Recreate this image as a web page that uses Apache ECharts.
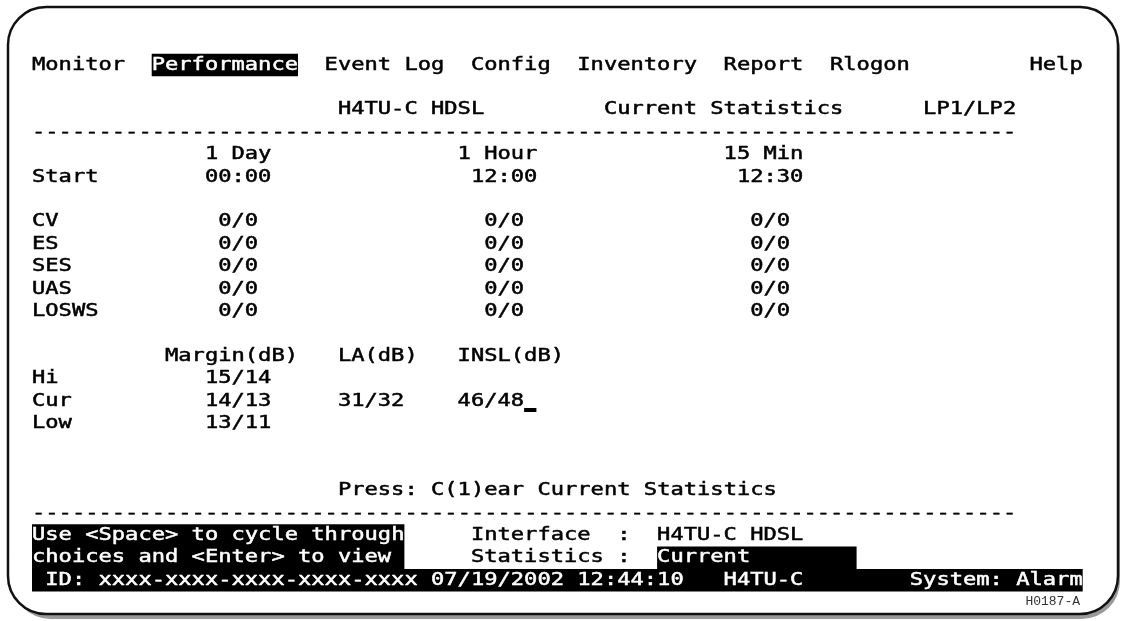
<!DOCTYPE html>
<html>
<head>
<meta charset="utf-8">
<script src="https://cdn.jsdelivr.net/npm/echarts@6/dist/echarts.min.js"></script>
<style>
  html, body { margin: 0; padding: 0; background: #fff; }
  #main { width: 1123px; height: 621px; }
</style>
</head>
<body>
<div id="main"></div>
<script>
// screen content
var menuItems = ['Monitor', 'Performance', 'Event Log', 'Config', 'Inventory', 'Report', 'Rlogon', 'Help'];
var activeMenu = 'Performance';
var unitName = 'H4TU-C';
var ifaceName = 'H4TU-C HDSL';
var pageTitle = 'Current Statistics';
var loopName = 'LP1/LP2';

var periods = ['1 Day', '1 Hour', '15 Min'];
var startTimes = ['00:00', '12:00', '12:30'];
var counterNames = ['CV', 'ES', 'SES', 'UAS', 'LOSWS'];
var dayCounts = ['0/0', '0/0', '0/0', '0/0', '0/0'];
var hourCounts = ['0/0', '0/0', '0/0', '0/0', '0/0'];
var minCounts = ['0/0', '0/0', '0/0', '0/0', '0/0'];

var lineHeads = ['Margin(dB)', 'LA(dB)', 'INSL(dB)'];
var lineRows = ['Hi', 'Cur', 'Low'];
var marginVals = ['15/14', '14/13', '13/11'];
var laVals = ['', '31/32', ''];
var inslVals = ['', '46/48', ''];

var pressText = 'Press: C(1)ear Current Statistics';
var helpLines = ['Use <Space> to cycle through', 'choices and <Enter> to view'];
var statsMode = 'Current';
var idText = 'xxxx-xxxx-xxxx-xxxx-xxxx';
var dateText = '07/19/2002';
var timeText = '12:44:10';
var systemText = 'System: Alarm';
var figureId = 'H0187-A';

// terminal grid
var CW = 13.3, X0 = 32, Y0 = 65, RH = 22.4, FS = 18;
var FONT = FS + 'px "DejaVu Sans Mono"';
var SX = CW / (0.602 * FS);

function cx(c) { return X0 + c * CW; }
function ry(r) { return Y0 + (r - 1) * RH; }

var els = [];

function txt(s, c, r, color) {
  if (!s) return;
  var col = color || '#000';
  els.push({
    type: 'text', x: cx(c), y: ry(r), scaleX: SX, z: 20,
    style: {
      text: s, x: 0, y: 0, font: FONT, fill: col, stroke: col, lineWidth: 0.5,
      textAlign: 'left', textVerticalAlign: 'middle', align: 'left', verticalAlign: 'middle'
    }
  });
}
function box(c0, c1, r0, r1) {
  els.push({
    type: 'rect', z: 10,
    shape: { x: cx(c0), y: ry(r0) - RH / 2, width: (c1 - c0) * CW, height: (r1 - r0 + 1) * RH },
    style: { fill: '#000' }
  });
}

// frame + shadow
els.push({ type: 'rect', z: 1, shape: { x: 12, y: 12, width: 1108, height: 607, r: 38 }, style: { fill: '#9a9a9a' } });
els.push({ type: 'rect', z: 2, shape: { x: 8, y: 7, width: 1110, height: 607, r: 38 }, style: { fill: '#fff', stroke: '#111', lineWidth: 2.5 } });

// menu row
var menuCols = [0, 9, 22, 33, 41, 52, 60, 75];
menuItems.forEach(function (m, i) {
  if (m === activeMenu) {
    box(menuCols[i], menuCols[i] + m.length, 1, 1);
    txt(m, menuCols[i], 1, '#fff');
  } else {
    txt(m, menuCols[i], 1);
  }
});

// header
txt(ifaceName, 23, 3);
txt(pageTitle, 43, 3);
txt(loopName, 67, 3);
txt(new Array(75).join('-'), 0, 4);

// period columns
var periodCols = [13, 32, 52];
periods.forEach(function (p, i) { txt(p, periodCols[i], 5); });
txt('Start', 0, 6);
startTimes.forEach(function (t, i) { txt(t, periodCols[i] + (i === 0 ? 0 : 1), 6); });

var countCols = [14, 34, 54];
counterNames.forEach(function (n, i) {
  txt(n, 0, 8 + i);
  txt(dayCounts[i], countCols[0], 8 + i);
  txt(hourCounts[i], countCols[1], 8 + i);
  txt(minCounts[i], countCols[2], 8 + i);
});

// line quality
var headCols = [10, 23, 32];
lineHeads.forEach(function (h, i) { txt(h, headCols[i], 14); });
lineRows.forEach(function (n, i) {
  txt(n, 0, 15 + i);
  txt(marginVals[i], 13, 15 + i);
  txt(laVals[i], 23, 15 + i);
  txt(inslVals[i], 32, 15 + i);
});
// cursor
els.push({ type: 'rect', z: 20, shape: { x: cx(37), y: ry(16) + 7, width: CW - 1, height: 4 }, style: { fill: '#000' } });

txt(pressText, 23, 20);
txt(new Array(75).join('-'), 0, 21);

// footer
box(0, 28, 22, 23);
txt(helpLines[0], 0, 22, '#fff');
txt(helpLines[1], 0, 23, '#fff');
txt('Interface', 33, 22);
txt(':', 44, 22);
txt(ifaceName, 47, 22);
txt('Statistics', 33, 23);
txt(':', 44, 23);
box(47, 62, 23, 23);
txt(statsMode, 47, 23, '#fff');

box(0, 79, 24, 24);
txt('ID:', 1, 24, '#fff');
txt(idText, 5, 24, '#fff');
txt(dateText, 30, 24, '#fff');
txt(timeText, 41, 24, '#fff');
txt(unitName, 52, 24, '#fff');
txt(systemText, 66, 24, '#fff');

els.push({
  type: 'text', x: 1080, y: 602, z: 20,
  style: { text: figureId, font: '13px "Liberation Mono"', fill: '#333', textAlign: 'right', align: 'right', textVerticalAlign: 'middle', verticalAlign: 'middle' }
});

var chart = echarts.init(document.getElementById('main'));
chart.setOption({
  animation: false,
  backgroundColor: '#fff',
  graphic: { elements: els }
});
</script>
</body>
</html>
